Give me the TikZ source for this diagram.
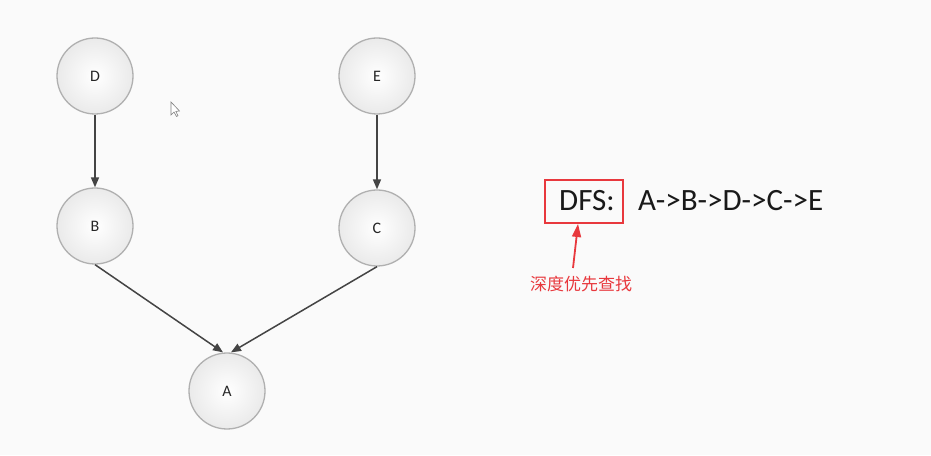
\documentclass[tikz,border=0pt]{standalone}
\usepackage{fontspec}
\setmainfont{Carlito}
\newfontfamily\cjk{Noto Sans CJK SC}
\usetikzlibrary{arrows.meta}
\definecolor{bg}{HTML}{FAFAFA}
\definecolor{nodefill}{HTML}{EAEAEA}
\definecolor{nodeborder}{HTML}{B0B0B0}
\definecolor{edgec}{HTML}{444444}
\definecolor{redc}{HTML}{E8383D}
\tikzset{
  vert/.style={circle, minimum size=76pt, inner sep=0pt, draw=nodeborder, line width=1.3pt,
    inner color=white, outer color=nodefill, font=\fontsize{16}{18}\selectfont, text=black!85},
  edge/.style={draw=edgec, line width=1.5pt, -{Triangle[length=10pt,width=8pt]}},
}
\begin{document}
\begin{tikzpicture}[x=1pt,y=1pt]
\fill[bg] (0,0) rectangle (931,455);
\useasboundingbox (0,0) rectangle (931,455);
\node[vert] (D) at (95,379) {D};
\node[vert] (E) at (377,379) {E};
\node[vert] (B) at (95,229) {B};
\node[vert] (C) at (377,227) {C};
\node[vert] (A) at (227,64) {A};
\draw[edge] (D) -- (B);
\draw[edge] (E) -- (C);
\draw[edge] (B.south) -- ([xshift=-4pt]A.north);
\draw[edge] (C.south) -- ([xshift=4pt]A.north);
% cursor
\draw[fill=white, draw=gray, line width=0.6pt] (171,353) -- (171,340) -- (174,343) -- (176.5,338.5) -- (178,339.3) -- (175.8,343.6) -- (179.5,344) -- cycle;
% DFS label
\node[draw=redc, line width=2pt, minimum width=78pt, minimum height=43pt, inner sep=0pt] (box) at (584,253.5) {};
\node[anchor=base west, inner sep=0pt, font=\fontsize{31}{34}\selectfont, text=black!90] (dfs) at (559,244) {DFS:};
\node[anchor=base west, inner sep=0pt, font=\fontsize{31}{34}\selectfont, text=black!90] (seq) at (638,244) {A->B->D->C->E};
\node[inner sep=0pt, font=\cjk\fontsize{17}{19}\selectfont, text=redc] (cn) at (581,171) {深度优先查找};
\coordinate (tail) at (573,187);
\draw[draw=redc, line width=1.8pt, -{Triangle[length=13pt,width=9pt]}] (tail) -- ([xshift=-6pt]box.south);
\end{tikzpicture}
\end{document}
